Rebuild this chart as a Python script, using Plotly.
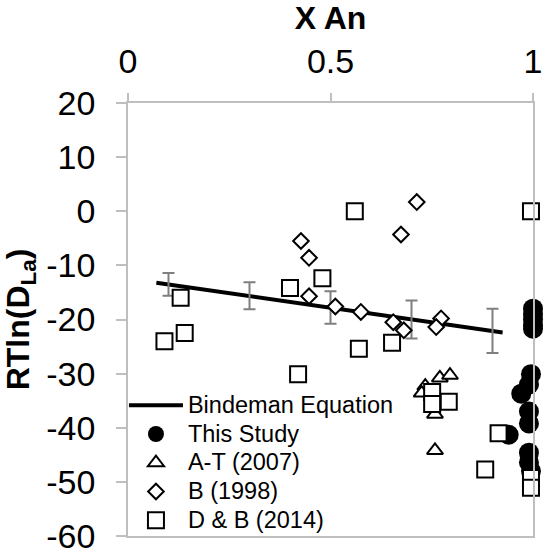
import plotly.graph_objects as go

# Bindeman equation line (end points)
line_x = [0.07, 0.925]
line_y = [-13.2, -22.4]

# Error bars drawn on the Bindeman equation
err_x = [0.1, 0.3, 0.5, 0.7, 0.9]
err_y = [-13.5, -15.6, -17.8, -20.0, -22.1]
err_half = [2.1, 2.5, 3.0, 3.5, 4.1]

# This Study
this_x = [1.0, 1.0, 1.0, 1.0, 1.0, 0.995, 0.971, 0.99, 0.99, 0.99, 0.94, 0.99, 0.99, 0.995]
this_y = [-18.0, -19.0, -20.0, -21.0, -21.7, -30.1, -33.7, -32.0, -37.0, -39.2, -41.3, -44.6, -46.4, -48.0]

# A-T (2007)
at_x = [0.734, 0.725, 0.770, 0.795, 0.758, 0.758]
at_y = [-32.3, -33.6, -30.8, -30.3, -37.5, -44.2]

# B (1998)
b_x = [0.427, 0.447, 0.447, 0.512, 0.575, 0.655, 0.681, 0.674, 0.713, 0.773, 0.761]
b_y = [-5.5, -8.6, -15.7, -17.6, -18.6, -20.5, -22.0, -4.3, 1.7, -19.8, -21.4]

# D & B (2014)
db_x = [0.09, 0.14, 0.13, 0.40, 0.48, 0.56, 0.57, 0.652, 0.42, 0.751, 0.751, 0.792, 0.915, 0.882, 0.995, 0.995, 0.995]
db_y = [-24.0, -22.5, -16.0, -14.2, -12.4, 0.0, -25.4, -24.3, -30.1, -33.4, -35.6, -35.2, -41.0, -47.7, -49.3, -51.1, 0.0]

x_ticks = [0, 0.5, 1]
x_ticktext = ["0", "0.5", "1"]
y_ticks = [-60, -50, -40, -30, -20, -10, 0, 10, 20]
y_ticktext = ["-60", "-50", "-40", "-30", "-20", "-10", "0", "10", "20"]

FONT = "Liberation Sans, Arial, sans-serif"
AXIS_GRAY = "#bfbfbf"
LEG_TXT = '<span style="font-size:23.5px">{}</span>'

fig = go.Figure()

fig.add_trace(go.Scatter(
    x=line_x, y=line_y, mode="lines", name=LEG_TXT.format("Bindeman Equation"),
    line=dict(color="black", width=4), cliponaxis=False,
))
fig.add_trace(go.Scatter(
    x=err_x, y=err_y, mode="markers", showlegend=False, hoverinfo="skip",
    marker=dict(size=1, opacity=0),
    error_y=dict(type="data", array=err_half, visible=True, color="#7f7f7f", thickness=2, width=6),
    cliponaxis=False,
))
fig.add_trace(go.Scatter(
    x=this_x, y=this_y, mode="markers", name=LEG_TXT.format("This Study"),
    marker=dict(symbol="circle", size=20, color="black", line=dict(width=0)),
    cliponaxis=False,
))
fig.add_trace(go.Scatter(
    x=at_x, y=at_y, mode="markers", name=LEG_TXT.format("A-T (2007)"),
    marker=dict(symbol="triangle-up", size=14, color="white", line=dict(color="black", width=2)),
    cliponaxis=False,
))
fig.add_trace(go.Scatter(
    x=b_x, y=b_y, mode="markers", name=LEG_TXT.format("B (1998)"),
    marker=dict(symbol="diamond", size=12, color="white", line=dict(color="black", width=2)),
    cliponaxis=False,
))
fig.add_trace(go.Scatter(
    x=db_x, y=db_y, mode="markers", name=LEG_TXT.format("D &amp; B (2014)"),
    marker=dict(symbol="square", size=16, color="white", line=dict(color="black", width=2)),
    cliponaxis=False,
))

fig.update_layout(
    width=545, height=558,
    margin=dict(l=128, r=3, t=103, b=13, pad=0),
    paper_bgcolor="white", plot_bgcolor="white",
    font=dict(family=FONT, color="black", size=24),
    showlegend=True,
    legend=dict(
        x=-0.01, y=-0.009, xanchor="left", yanchor="bottom",
        bgcolor="rgba(0,0,0,0)", borderwidth=0,
        font=dict(family=FONT, size=19.8, color="black"),
        tracegroupgap=0, itemsizing="trace", itemwidth=54,
    ),
    xaxis=dict(
        side="top", range=[0, 1], tickvals=x_ticks, ticktext=x_ticktext,
        ticks="outside", ticklen=8, tickwidth=1.5, tickcolor=AXIS_GRAY,
        showline=True, linecolor=AXIS_GRAY, linewidth=1.5, mirror=True,
        showgrid=False, zeroline=False,
        ticklabeloverflow="allow", ticklabelstandoff=7,
        tickfont=dict(family=FONT, size=34, color="black"),
        title=dict(text="<b>X An</b>", font=dict(family=FONT, size=32, color="black"), standoff=6),
    ),
    yaxis=dict(
        range=[-60, 20], tickvals=y_ticks, ticktext=y_ticktext,
        ticks="outside", ticklen=10, tickwidth=1.5, tickcolor=AXIS_GRAY,
        showline=True, linecolor=AXIS_GRAY, linewidth=1.5, mirror=True,
        showgrid=False, zeroline=False,
        ticklabeloverflow="allow", ticklabelstandoff=14,
        tickfont=dict(family=FONT, size=34, color="black"),
        title=dict(text="<b>RTln(D<sub>La</sub>)</b>", font=dict(family=FONT, size=32, color="black"), standoff=8),
    ),
)

fig.write_html("out.html")
